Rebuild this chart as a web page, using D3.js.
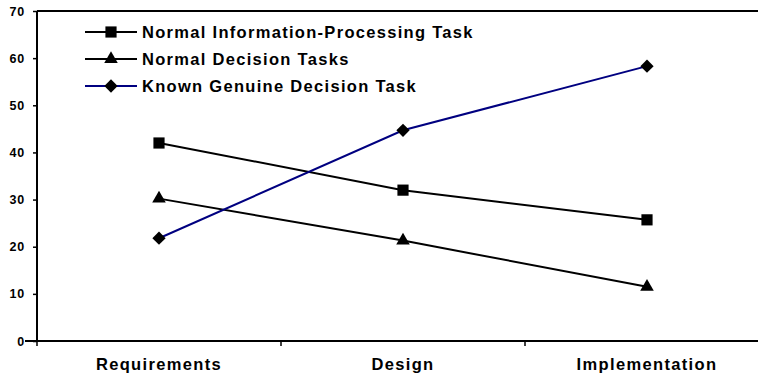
<html>
<head>
  <script src="https://d3js.org/d3.v7.min.js"></script>
  <style>
    body { margin: 0; background: #fff; }
    text { font-family: "Liberation Sans", Arial, sans-serif; font-weight: bold; fill: #000; }
  </style>
</head>
<body>
<svg id="chart" width="758" height="379"></svg>
<script>
  const categories = ["Requirements", "Design", "Implementation"];
  const infoTask = [42, 32, 25.7];
  const decisionTasks = [30.2, 21.3, 11.5];
  const genuineTask = [21.8, 44.7, 58.3];
  const yTicks = [0, 10, 20, 30, 40, 50, 60, 70];
  const seriesNames = ["Normal Information-Processing Task", "Normal Decision Tasks", "Known Genuine Decision Task"];

  const svg = d3.select("svg#chart");
  const margin = {top: 11, left: 37, bottom: 38};
  const plotRight = 769;
  const height = 379;

  const x = d3.scaleBand().domain(categories).range([margin.left, plotRight]);
  const y = d3.scaleLinear().domain([0, 70]).range([height - margin.bottom, margin.top]);

  // diamond = square turned 45 degrees
  const diamond = {
    draw(ctx, size) {
      const r = Math.sqrt(size / 2);
      ctx.moveTo(0, -r); ctx.lineTo(r, 0); ctx.lineTo(0, r); ctx.lineTo(-r, 0); ctx.closePath();
    }
  };

  const series = [
    {name: seriesNames[0], values: infoTask, color: "#000", shape: d3.symbolSquare, size: 125},
    {name: seriesNames[1], values: decisionTasks, color: "#000", shape: d3.symbolTriangle, size: 80},
    {name: seriesNames[2], values: genuineTask, color: "#000080", shape: diamond, size: 88}
  ];

  // top border of plot area
  svg.append("line")
    .attr("x1", margin.left).attr("x2", plotRight)
    .attr("y1", y(70)).attr("y2", y(70))
    .attr("stroke", "#000").attr("stroke-width", 2);

  // y axis
  const leftAxis = d3.axisLeft(y).tickValues(yTicks).tickSize(4).tickPadding(8);
  const ya = svg.append("g")
    .attr("transform", "translate(" + margin.left + ",0)")
    .call(leftAxis);
  ya.select(".domain").attr("stroke-width", 2).attr("d", "M0," + y(70) + "V" + y(0));
  ya.selectAll(".tick line").attr("stroke-width", 1.5);
  ya.selectAll("text").style("font-size", "12.5px").style("letter-spacing", "0.8px")
    .style("font-family", "Liberation Sans, Arial").style("font-weight", "bold");

  // x axis
  const bottomAxis = d3.axisBottom(x).tickSize(0).tickPadding(17);
  const xa = svg.append("g")
    .attr("transform", "translate(0," + y(0) + ")")
    .call(bottomAxis);
  xa.select(".domain").attr("stroke-width", 2).attr("d", "M" + (margin.left - 12) + ",0H" + plotRight);
  xa.selectAll("text").style("font-size", "16.5px").style("letter-spacing", "1.35px")
    .style("font-family", "Liberation Sans, Arial").style("font-weight", "bold");
  // boundary ticks between categories
  xa.selectAll("line.sep").data(categories.slice(1))
    .join("line").attr("class", "sep")
    .attr("x1", d => x(d)).attr("x2", d => x(d))
    .attr("y1", 0).attr("y2", 5)
    .attr("stroke", "#000").attr("stroke-width", 1.5);
  xa.append("line")
    .attr("x1", margin.left).attr("x2", margin.left).attr("y1", 0).attr("y2", 5)
    .attr("stroke", "#000").attr("stroke-width", 1.5);

  const cx = c => x(c) + x.bandwidth() / 2;
  const line = d3.line().x((d, i) => cx(categories[i])).y(d => y(d));

  series.forEach(s => {
    svg.append("path")
      .attr("d", line(s.values))
      .attr("fill", "none")
      .attr("stroke", s.color)
      .attr("stroke-width", 2);
    svg.selectAll(null).data(s.values).join("path")
      .attr("transform", (d, i) => "translate(" + cx(categories[i]) + "," + y(d) + ")")
      .attr("d", d3.symbol().type(s.shape).size(s.size))
      .attr("fill", "#000");
  });

  // legend
  const legend = svg.append("g");
  series.forEach((s, i) => {
    const ly = 32 + i * 27;
    legend.append("line")
      .attr("x1", 85).attr("x2", 137).attr("y1", ly).attr("y2", ly)
      .attr("stroke", s.color).attr("stroke-width", 2);
    legend.append("path")
      .attr("transform", "translate(111," + ly + ")")
      .attr("d", d3.symbol().type(s.shape).size(s.size))
      .attr("fill", "#000");
    legend.append("text")
      .attr("x", 142).attr("y", ly + 5.5)
      .style("font-size", "16.5px")
      .style("letter-spacing", "1.3px")
      .text(s.name);
  });
</script>
</body>
</html>
